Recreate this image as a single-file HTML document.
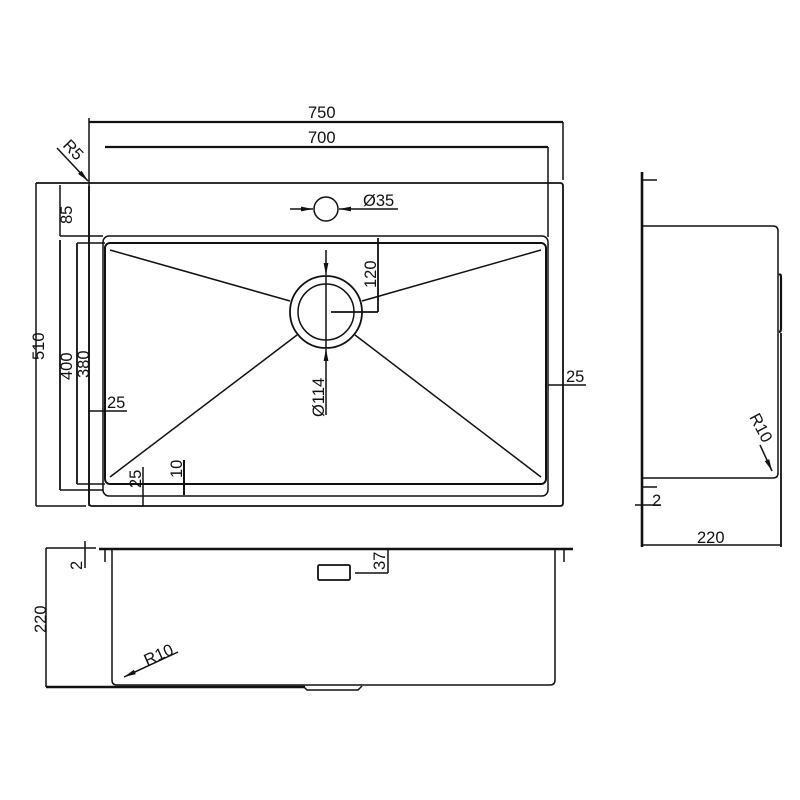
<!DOCTYPE html>
<html><head><meta charset="utf-8"><style>html,body{margin:0;padding:0;background:#fff}svg{display:block}text{font-family:"Liberation Sans",sans-serif;font-size:16.5px;fill:#111}</style></head><body>
<svg width="800" height="800" viewBox="0 0 800 800" xmlns="http://www.w3.org/2000/svg">
<defs><marker id="a" viewBox="0 0 10 10" refX="10" refY="5" markerWidth="8" markerHeight="8" orient="auto-start-reverse"><path d="M0,3 L10,5 L0,7 z" fill="#111"/></marker></defs>
<g stroke="#111" fill="none" stroke-width="1.5">
<line x1="89" y1="122" x2="563" y2="122" stroke-width="2.2"/>
<line x1="89" y1="118" x2="89" y2="506"/>
<line x1="563" y1="122" x2="563" y2="180"/>
<line x1="105" y1="147" x2="548" y2="147" stroke-width="2.2"/>
<line x1="548" y1="147" x2="548" y2="237"/>
<path d="M36,183 H560 Q563,183 563,186 V503 Q563,506 560,506 H92 Q89,506 89,503 V186" stroke-width="1.8"/>
<line x1="36" y1="183" x2="36" y2="506"/>
<line x1="36" y1="506" x2="86" y2="506"/>
<rect x="103" y="236" width="445" height="260" rx="6"/>
<rect x="105" y="243" width="441" height="241" rx="5" stroke-width="2"/>
<line x1="60" y1="236" x2="103" y2="236"/>
<line x1="60" y1="185" x2="60" y2="236"/>
<line x1="60" y1="240" x2="60" y2="490" stroke-width="1.8"/>
<line x1="60" y1="490" x2="103" y2="490"/>
<line x1="77" y1="243" x2="77" y2="484" stroke-width="1.8"/>
<line x1="77" y1="243" x2="105" y2="243"/>
<line x1="77" y1="484" x2="105" y2="484"/>
<line x1="89" y1="411" x2="127" y2="411"/>
<line x1="143" y1="467" x2="143" y2="506"/>
<line x1="184" y1="460" x2="184" y2="495" stroke-width="2"/>
<line x1="57" y1="148" x2="88" y2="181" marker-end="url(#a)"/>
<circle cx="326" cy="209" r="12"/>
<line x1="290" y1="209" x2="313" y2="209" marker-end="url(#a)"/>
<line x1="398" y1="209" x2="339" y2="209" marker-end="url(#a)"/>
<circle cx="326" cy="312" r="36" stroke-width="1.8"/>
<circle cx="326" cy="312" r="28"/>
<line x1="110" y1="250" x2="290" y2="301"/>
<line x1="110" y1="477" x2="297" y2="335"/>
<line x1="541" y1="250" x2="362" y2="301"/>
<line x1="541" y1="477" x2="355" y2="335"/>
<line x1="326" y1="250" x2="326" y2="275" marker-end="url(#a)"/>
<line x1="326" y1="415" x2="326" y2="349" marker-end="url(#a)"/>
<line x1="326" y1="276" x2="326" y2="348"/>
<line x1="378" y1="238" x2="378" y2="312" stroke-width="1.8"/>
<line x1="331" y1="312" x2="378" y2="312" stroke-width="1.8"/>
<line x1="548" y1="385" x2="586" y2="385"/>
<line x1="46" y1="548" x2="96" y2="548"/>
<line x1="99" y1="549" x2="573" y2="549" stroke-width="2.6"/>
<line x1="85" y1="541" x2="85" y2="568"/>
<line x1="105" y1="549" x2="105" y2="562"/>
<line x1="564" y1="549" x2="564" y2="562"/>
<line x1="46" y1="548" x2="46" y2="687"/>
<path d="M112,549 V680 Q112,685 117,685 H550 Q555,685 555,680 V549"/>
<line x1="46" y1="687" x2="305" y2="687" stroke-width="2.6"/>
<path d="M303,686 L307,690 H358 L362,686"/>
<rect x="318" y="565" width="32" height="15" rx="1.5" stroke-width="1.8"/>
<line x1="388" y1="549" x2="388" y2="573"/>
<line x1="355" y1="573" x2="388" y2="573"/>
<line x1="178" y1="652" x2="124" y2="677" marker-end="url(#a)"/>
<line x1="642" y1="172" x2="642" y2="547" stroke-width="2.6"/>
<line x1="642" y1="180" x2="657" y2="180"/>
<path d="M642,226 H773 Q778,226 778,231 V473 Q778,478 773,478 H642"/>
<path d="M779,275 Q781,273 781,278 V328 Q781,332 779,332" stroke-width="2.2"/>
<line x1="781" y1="333" x2="781" y2="547" stroke-width="1.8"/>
<line x1="642" y1="487" x2="657" y2="487"/>
<line x1="635" y1="505" x2="661" y2="505"/>
<line x1="642" y1="545" x2="781" y2="545"/>
<line x1="760" y1="445" x2="772" y2="471" marker-end="url(#a)"/>
</g>
<text x="308" y="118">750</text>
<text x="308" y="143">700</text>
<text x="363" y="206">Ø35</text>
<text transform="translate(62,146) rotate(46)">R5</text>
<text transform="translate(44,360) rotate(-90)">510</text>
<text transform="translate(72,224) rotate(-90)">85</text>
<text transform="translate(72,380) rotate(-90)">400</text>
<text transform="translate(89,378) rotate(-90)">380</text>
<text x="107" y="408">25</text>
<text transform="translate(141,488) rotate(-90)">25</text>
<text transform="translate(182,478) rotate(-90)">10</text>
<text transform="translate(376,288) rotate(-90)">120</text>
<text transform="translate(324,417) rotate(-90)">Ø114</text>
<text x="566" y="382">25</text>
<text transform="translate(82,570) rotate(-90)">2</text>
<text transform="translate(46,633) rotate(-90)">220</text>
<text transform="translate(385,570) rotate(-90)">37</text>
<text transform="translate(147,666) rotate(-24)">R10</text>
<text x="652" y="506">2</text>
<text x="697" y="543">220</text>
<text transform="translate(749,417) rotate(62)">R10</text>
</svg>
</body></html>
